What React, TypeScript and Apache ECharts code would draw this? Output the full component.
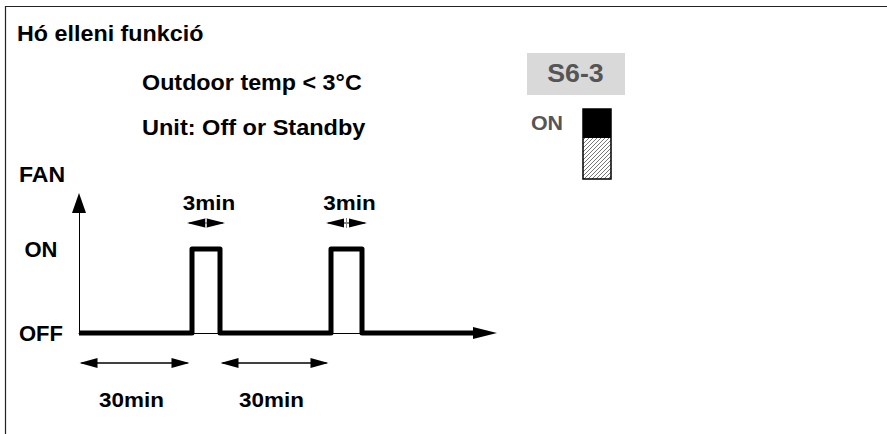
import React, { useEffect, useRef } from "react";
import * as echarts from "echarts";

const titleText = "Hó elleni funkció";
const conditionLines = ["Outdoor temp < 3°C", "Unit: Off or Standby"];
const axisName = "FAN";
const stateLabels = ["OFF", "ON"];
const switchCode = "S6-3";
const switchLabel = "ON";
// schematic time positions (drawing units along the time axis) where the fan state changes
const switchTimes = [0, 113, 141, 252, 283, 394];
const fanStates = [0, 1, 0, 1, 0, 0];
const durationLabels = ["30min", "3min", "30min", "3min"];
const durationStarts = [0, 113, 141, 252];
const durationEnds = [113, 141, 252, 283];
const durationRows = [0, 1, 0, 1]; // 0 = below the time axis, 1 = above the pulses

const FONT = "'Liberation Sans', Arial, Helvetica, sans-serif";

function txt(text: string, x: number, y: number, size: number, sx: number, fill = "#000", align = "left") {
  return {
    type: "text",
    x,
    y,
    scaleX: sx,
    silent: true,
    style: {
      text,
      x: 0,
      y: 0,
      fontSize: size,
      fontWeight: "bold",
      fontFamily: FONT,
      fill,
      align,
      verticalAlign: "middle",
    },
  };
}

function hatchLines(left: number, top: number, w: number, h: number, step: number) {
  const out: any[] = [];
  const bottom = top + h;
  for (let d = -h + step / 2; d < w; d += step) {
    const u0 = Math.max(0, d);
    const v0 = u0 - d;
    const u1 = Math.min(w, h + d);
    const v1 = u1 - d;
    out.push({
      type: "line",
      silent: true,
      shape: { x1: left + u0, y1: bottom - v0, x2: left + u1, y2: bottom - v1 },
      style: { stroke: "#555", lineWidth: 0.8 },
    });
  }
  return out;
}

export default function App() {
  const ref = useRef<HTMLDivElement>(null);

  useEffect(() => {
    if (!ref.current) return;
    const chart = echarts.init(ref.current, null, { renderer: "svg" });

    const dimData = durationLabels.map((_, i) => [durationStarts[i], durationEnds[i], durationRows[i], i]);

    const graphics: any[] = [
      // frame
      { type: "line", silent: true, shape: { x1: 5.5, y1: 6, x2: 5.5, y2: 434 }, style: { stroke: "#222", lineWidth: 1.2 } },
      { type: "line", silent: true, shape: { x1: 5, y1: 6.5, x2: 887, y2: 6.5 }, style: { stroke: "#222", lineWidth: 1.2 } },
      txt(titleText, 17, 33, 22, 1.06),
      txt(conditionLines[0], 142, 82.5, 22, 1.06),
      txt(conditionLines[1], 142, 127.5, 22, 1.07),
      txt(axisName, 19, 175, 22, 1.05),
      // switch code box
      { type: "rect", silent: true, shape: { x: 527, y: 53, width: 98, height: 42 }, style: { fill: "#d9d9d9" } },
      txt(switchCode, 575.5, 73, 25, 1.07, "#555", "center"),
      txt(switchLabel, 547, 123, 20, 1.07, "#555", "center"),
      // dip switch
      { type: "rect", silent: true, shape: { x: 583, y: 109, width: 28, height: 29 }, style: { fill: "#000" } },
      ...hatchLines(583, 138, 28, 41, 4),
      { type: "rect", silent: true, shape: { x: 583, y: 109, width: 28, height: 70 }, style: { fill: "none", stroke: "#000", lineWidth: 1.5 } },
    ];

    chart.setOption({
      animation: false,
      backgroundColor: "#fff",
      grid: { left: 79, right: 402, top: 203, bottom: 101, containLabel: false },
      xAxis: {
        type: "value",
        min: 0,
        max: 406,
        axisLine: { show: true, symbol: ["none", "triangle"], symbolSize: [12, 24], lineStyle: { color: "#000", width: 1 } },
        axisTick: { show: false },
        axisLabel: { show: false },
        splitLine: { show: false },
      },
      yAxis: {
        type: "value",
        min: 0,
        max: 130 / 84,
        interval: 1,
        axisLine: { show: true, symbol: ["none", "triangle"], symbolSize: [14, 20], lineStyle: { color: "#000", width: 1 } },
        axisTick: { show: false },
        splitLine: { show: false },
        axisLabel: {
          show: true,
          margin: 38,
          align: "center",
          fontSize: 22,
          fontWeight: "bold",
          fontFamily: FONT,
          color: "#000",
          formatter: (v: number) => (v === 0 ? stateLabels[0] : v === 1 ? stateLabels[1] : ""),
        },
      },
      graphic: graphics,
      series: [
        {
          type: "line",
          data: switchTimes.map((t, i) => [t, fanStates[i]]),
          step: "end",
          symbol: "none",
          showSymbol: false,
          clip: false,
          z: 3,
          lineStyle: { color: "#000", width: 5, join: "round", cap: "butt" },
        },
        {
          type: "custom",
          clip: false,
          z: 4,
          encode: { x: [0, 1], y: 2 },
          data: dimData,
          renderItem: (params: any, api: any) => {
            const x0 = api.value(0);
            const x1 = api.value(1);
            const row = api.value(2);
            const idx = api.value(3);
            const p0 = api.coord([x0, 0]);
            const p1 = api.coord([x1, 0]);
            const onY = api.coord([x0, 1])[1];
            let xa: number, xb: number, y: number, head: number, hh: number, lw: number, ty: number;
            if (row === 1) {
              xa = p0[0] - 5;
              xb = p1[0] + 5;
              y = onY - 26;
              head = Math.min(18, (xb - xa) / 2 - 1);
              hh = 4.5;
              lw = 1;
              ty = y - 20;
            } else {
              xa = p0[0] + 0.5;
              xb = p1[0] - 2.5;
              y = p0[1] + 30;
              head = 18;
              hh = 5;
              lw = 1.5;
              ty = y + 37;
            }
            const cx = (xa + xb) / 2 + (row === 1 ? 3 : -3);
            const children: any[] = [
              { type: "line", shape: { x1: xa + 2, y1: y, x2: xb - 2, y2: y }, style: { stroke: "#000", lineWidth: lw } },
              { type: "polygon", shape: { points: [[xa, y], [xa + head, y - hh], [xa + head, y + hh]] }, style: { fill: "#000" } },
              { type: "polygon", shape: { points: [[xb, y], [xb - head, y - hh], [xb - head, y + hh]] }, style: { fill: "#000" } },
              {
                type: "text",
                x: cx,
                y: ty,
                scaleX: 1.07,
                style: {
                  text: durationLabels[idx],
                  x: 0,
                  y: 0,
                  fontSize: 21,
                  fontWeight: "bold",
                  fontFamily: FONT,
                  fill: "#000",
                  align: "center",
                  verticalAlign: "middle",
                },
              },
            ];
            if (row === 1) {
              const mx = (xa + xb) / 2;
              children.push({ type: "line", shape: { x1: mx, y1: y - 5, x2: mx, y2: y + 5 }, style: { stroke: "#888", lineWidth: 1 } });
            }
            return { type: "group", children };
          },
        },
      ],
    });

    return () => chart.dispose();
  }, []);

  return <div ref={ref} style={{ position: "fixed", left: 0, top: 0, width: 887, height: 434 }} />;
}
